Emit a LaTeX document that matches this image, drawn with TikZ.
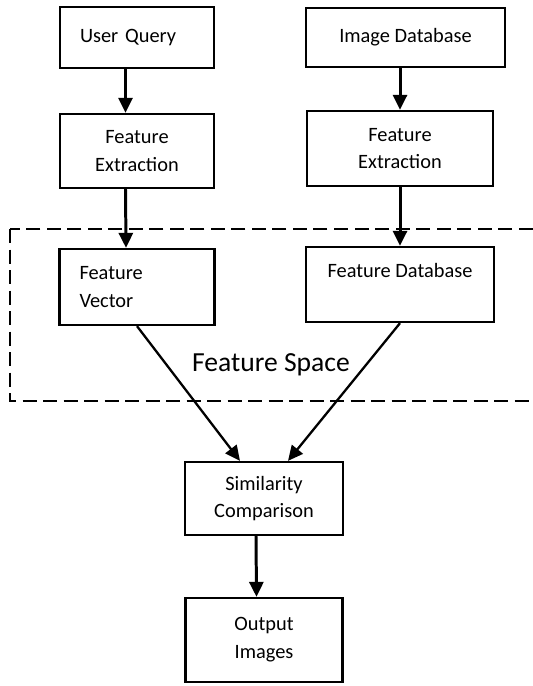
\documentclass[tikz,border=0pt]{standalone}
\usepackage{fontspec}
\setmainfont{Carlito}
\usetikzlibrary{arrows.meta}

\begin{document}
\begin{tikzpicture}[
        node distance=2.27cm,
        box/.style={draw, line width=1.3pt, align=center, inner sep=0pt, font=\fontsize{11.6}{15.8}\selectfont},
        leftbox/.style={box, align=left, inner xsep=0.4cm, text width=#1},
        arrow/.style={-{Triangle[length=0.3cm,width=0.28cm]}, line width=1.7pt},
        link/.style={-{Triangle[length=0.3cm,width=0.28cm]}, line width=1.3pt},
        space/.style={dashed, dash pattern=on 0.28cm off 0.13cm, line width=1.2pt}
    ]
        \useasboundingbox (0,0) rectangle (10.64,-13.72);

        % query side and database side
        \node[leftbox=2.28cm, minimum height=1.22cm] (query) at (2.74,-0.75) {User Query};
        \node[box, right of=query, xshift=3.1cm, minimum width=3.98cm, minimum height=1.18cm] (imgdb) {Image Database};
        \node[box, below of=query, minimum width=3.08cm, minimum height=1.48cm] (extractq) {Feature\\Extraction};
        \node[box, below of=imgdb, xshift=-0.11cm, yshift=0.05cm, minimum width=3.72cm, minimum height=1.5cm] (extractdb) {Feature\\Extraction};
        \node[leftbox=2.3cm, below of=extractq, yshift=-0.45cm, minimum height=1.52cm] (vector) {Feature\\Vector};
        \node[box, below of=extractdb, yshift=-0.45cm, minimum width=3.76cm, minimum height=1.5cm] (featdb) {Feature Database\\\mbox{}};

        % matching and result
        \node[box, below of=vector, xshift=2.54cm, yshift=-1.96cm, minimum width=3.16cm, minimum height=1.46cm] (similar) {Similarity\\Comparison};
        \node[box, below of=similar, yshift=-0.56cm, minimum width=3.14cm, minimum height=1.68cm] (output) {Output\\Images};

        % feature space region
        \draw[space] (0.2,-4.58) rectangle (10.8,-8.02);
        \node[font=\fontsize{15.7}{19}\selectfont] (spacelbl) at (5.42,-7.3) {Feature Space};

        \draw[arrow] ([xshift=-0.23cm]query.south) -- ([xshift=-0.23cm]extractq.north);
        \draw[arrow] ([xshift=-0.23cm]extractq.south) -- ([xshift=-0.22cm]vector.north);
        \draw[arrow] ([xshift=-0.11cm]imgdb.south) -- (extractdb.north);
        \draw[arrow] (extractdb.south) -- (featdb.north);
        \draw[link] (vector.south) -- ([xshift=-0.48cm]similar.north);
        \draw[link] (featdb.south) -- ([xshift=0.48cm]similar.north);
        \draw[arrow] ([xshift=-0.16cm]similar.south) -- ([xshift=-0.15cm]output.north);
    \end{tikzpicture}
\end{document}
